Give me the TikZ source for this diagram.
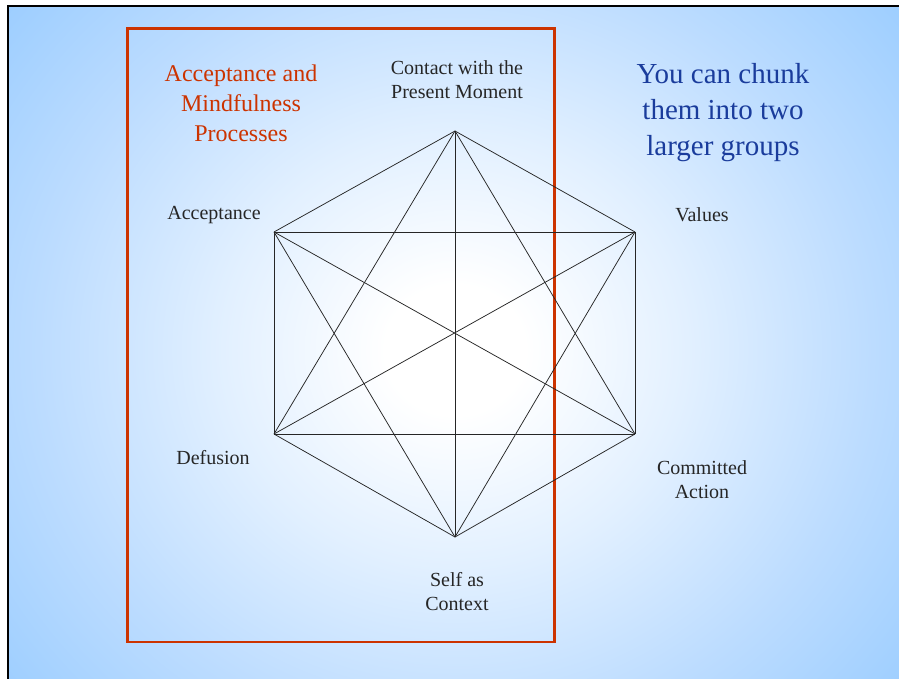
\documentclass[tikz,border=0pt]{standalone}
\usepackage{fontspec}
\setmainfont{Liberation Serif}
\definecolor{bgblue}{HTML}{99CCFF}
\definecolor{midblue}{HTML}{BCDCFF}
\definecolor{lightblue}{HTML}{E2F0FF}
\definecolor{redline}{HTML}{CC3300}
\definecolor{textblue}{HTML}{1A3C9C}
\definecolor{textgray}{HTML}{262626}
\pgfdeclareradialshading{bgshade}{\pgfpoint{0bp}{0bp}}{color(0bp)=(white); color(3bp)=(white); color(10bp)=(lightblue); color(18bp)=(midblue); color(26bp)=(bgblue); color(50bp)=(bgblue)}
\tikzset{
  edge/.style={draw=textgray, line width=0.75pt},
  lbl/.style={text=textgray, font=\fontsize{20}{24}\selectfont, align=center, inner sep=0pt},
  redtxt/.style={text=redline, font=\fontsize{24}{30}\selectfont, align=center, inner sep=0pt},
  bluetxt/.style={text=textblue, font=\fontsize{29}{36}\selectfont, align=center, inner sep=0pt},
}
\begin{document}
\begin{tikzpicture}[x=1pt,y=-1pt]
\useasboundingbox (0,0) rectangle (899,679);
\fill[white] (0,0) rectangle (899,679);
\begin{scope}
\clip (8,6) rectangle (899,679);
\fill[bgblue] (8,6) rectangle (899,679);
\shade[shading=bgshade] (455-580,350-540) rectangle (455+580,350+540);
\end{scope}
\draw[black, line width=2.6pt] (8,690) -- (8,6) -- (910,6);
% red box
\draw[redline, line width=2.8pt] (127.5,28.5) rectangle (554.5,642);
% vertices
\coordinate (T) at (455,131);
\coordinate (UL) at (274,232);
\coordinate (UR) at (635,232);
\coordinate (LL) at (274,434);
\coordinate (LR) at (635,434);
\coordinate (B) at (455,537);
\foreach \a/\b in {T/UL,T/UR,T/LL,T/LR,T/B,UL/UR,UL/LL,UL/LR,UL/B,UR/LL,UR/LR,UR/B,LL/LR,LL/B,LR/B}
  \draw[edge] (\a) -- (\b);
% labels
\node[lbl] (contact) at (457,80) {Contact with the\\Present Moment};
\node[lbl] (accept) at (214,215) {Acceptance};
\node[lbl] (values) at (702,215) {Values};
\node[lbl] (defus) at (213,458) {Defusion};
\node[lbl] (commit) at (702,480) {Committed\\Action};
\node[lbl] (self) at (457,592) {Self as\\Context};
\node[redtxt] (amp) at (241,103) {Acceptance and\\Mindfulness\\Processes};
\node[bluetxt] (chunk) at (723,113) {You can chunk\\them into two\\larger groups};
\end{tikzpicture}
\end{document}
